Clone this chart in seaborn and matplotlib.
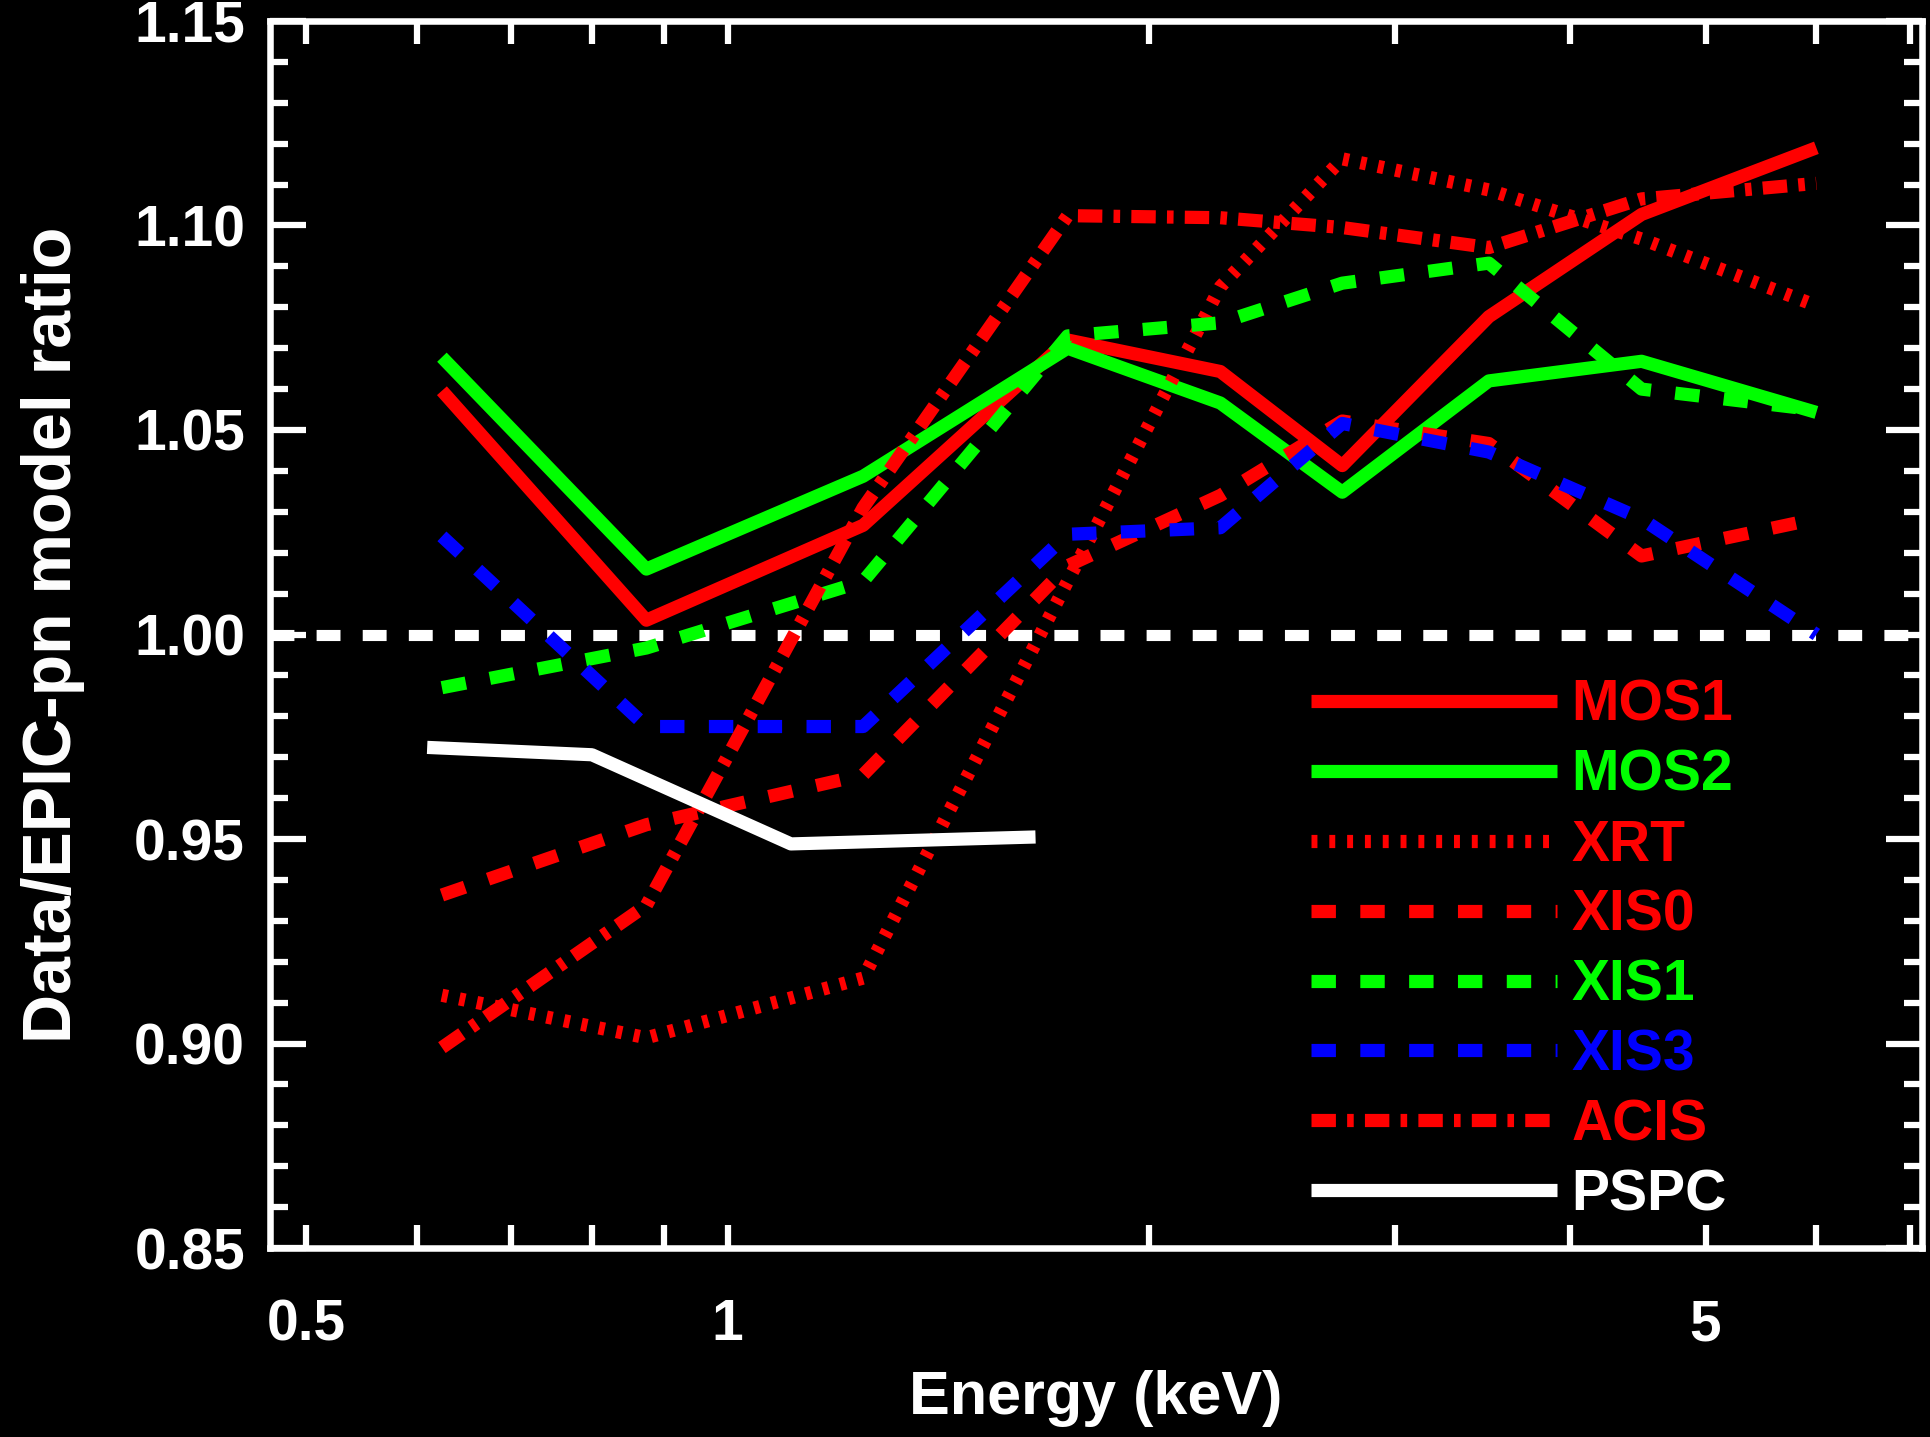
import numpy as np
import pandas as pd
import matplotlib.pyplot as plt
import matplotlib.ticker as mticker
import seaborn as sns

# bin centres (keV)
energy = [0.625, 0.875, 1.25, 1.75, 2.25, 2.75, 3.5, 4.5, 6.0]

mos1 = [1.0596, 1.0035, 1.0267, 1.0720, 1.0643, 1.0413, 1.0777, 1.1027, 1.1190]
mos2 = [1.0678, 1.0160, 1.0387, 1.0700, 1.0566, 1.0348, 1.0620, 1.0668, 1.0543]
xrt = [0.9118, 0.9014, 0.9160, 1.0130, 1.0850, 1.1163, 1.1087, 1.0967, 1.0804]
xis0 = [0.9363, 0.9535, 0.9657, 1.0168, 1.0340, 1.0522, 1.0467, 1.0192, 1.0283]
xis1 = [0.9870, 0.9967, 1.0130, 1.0730, 1.0762, 1.0859, 1.0908, 1.0600, 1.0549]
xis3 = [1.0240, 0.9775, 0.9775, 1.0245, 1.0261, 1.0516, 1.0446, 1.0283, 1.0000]
acis = [0.8990, 0.9338, 1.0310, 1.1024, 1.1019, 1.0995, 1.0946, 1.1065, 1.1103]

pspc_energy = [0.61, 0.80, 1.11, 1.66]
pspc = [0.9724, 0.9706, 0.9488, 0.9505]

x_major = [0.5, 1, 5]
x_major_labels = ['0.5', '1', '5']
x_minor = [0.6, 0.7, 0.8, 0.9, 2, 3, 4, 6, 7]

sns.set_theme(style='ticks', rc={
    'axes.facecolor': 'black', 'figure.facecolor': 'black',
    'axes.edgecolor': 'white', 'axes.labelcolor': 'white',
    'xtick.color': 'white', 'ytick.color': 'white', 'text.color': 'white',
})
plt.rcParams['font.family'] = ['Liberation Sans', 'DejaVu Sans']
plt.rcParams['font.weight'] = 'bold'
plt.rcParams['lines.solid_capstyle'] = 'butt'
plt.rcParams['lines.dash_capstyle'] = 'butt'

fig = plt.figure(figsize=(19.3, 14.37), dpi=100)
ax = fig.add_axes([0.1399, 0.1315, 0.856, 0.8539])

lw = 9.5
dash = (0, (1.85, 1.85))
dot = (0, (0.45, 0.9))
dashdot = (0, (1.85, 0.85, 0.5, 0.85))

ax.axhline(1.0, color='white', lw=8.0, linestyle=(0, (2.15, 2.0)), zorder=1)

series = [
    ('MOS1', energy, mos1, '#ff0000', '-'),
    ('MOS2', energy, mos2, '#00ff00', '-'),
    ('XRT', energy, xrt, '#ff0000', dot),
    ('XIS0', energy, xis0, '#ff0000', dash),
    ('XIS1', energy, xis1, '#00ff00', dash),
    ('XIS3', energy, xis3, '#0000ff', dash),
    ('ACIS', energy, acis, '#ff0000', dashdot),
    ('PSPC', pspc_energy, pspc, '#ffffff', '-'),
]
for name, xs, ys, col, ls in series:
    sns.lineplot(x=xs, y=ys, ax=ax, color=col, linestyle=ls, linewidth=lw,
                 label=name, sort=False, estimator=None, errorbar=None, zorder=2)

ax.set_xscale('log')
ax.set_xlim(0.471, 7.14)
ax.set_ylim(0.85, 1.15)
ax.xaxis.set_major_locator(mticker.FixedLocator(x_major))
ax.xaxis.set_major_formatter(mticker.FixedFormatter(x_major_labels))
ax.xaxis.set_minor_locator(mticker.FixedLocator(x_minor))
ax.xaxis.set_minor_formatter(mticker.NullFormatter())
ax.yaxis.set_major_locator(mticker.MultipleLocator(0.05))
ax.yaxis.set_minor_locator(mticker.MultipleLocator(0.01))
ax.yaxis.set_major_formatter(mticker.FormatStrFormatter('%.2f'))

for s in ax.spines.values():
    s.set_color('white')
    s.set_linewidth(4.7)
    s.set_visible(True)

ax.tick_params(axis='both', which='both', direction='in', top=True, right=True,
               color='white', width=4.5, labelcolor='white')
ax.tick_params(axis='x', which='both', length=16.5, pad=36, labelsize=41)
ax.tick_params(axis='y', which='major', length=26, pad=18, labelsize=41)
ax.tick_params(axis='y', which='minor', length=13)

ax.set_xlabel('Energy (keV)', fontsize=44, fontweight='bold', color='white')
ax.set_ylabel('Data/EPIC-pn model ratio', fontsize=49, fontweight='bold', color='white')
ax.xaxis.set_label_coords(0.5, -0.099)
ax.yaxis.set_label_coords(-0.112, 0.5)

handles, labels = ax.get_legend_handles_labels()
leg = ax.legend(handles, labels, loc='upper left', bbox_to_anchor=(0.630, 0.464),
                frameon=False, fontsize=41, handlelength=4.33, handletextpad=0.25,
                labelspacing=0.28, borderpad=0, borderaxespad=0, labelcolor='linecolor')

fig.savefig('out.png', dpi=100, facecolor='black')
